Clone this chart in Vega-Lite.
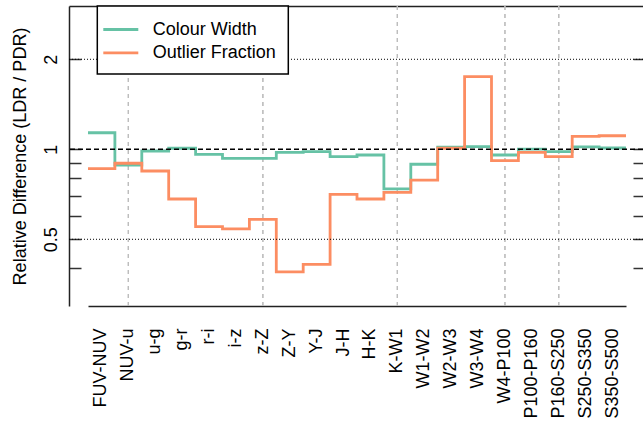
{
  "$schema": "https://vega.github.io/schema/vega-lite/v6.json",
  "width": 574,
  "height": 300,
  "autosize": {"type": "none"},
  "padding": {"left": 69, "top": 6, "right": 0, "bottom": 118},
  "background": "white",
  "config": {
    "view": {"stroke": null},
    "font": "Liberation Sans",
    "axis": {"labelFont": "Liberation Sans", "titleFont": "Liberation Sans", "labelColor": "black", "titleColor": "black"}
  },
  "data": {
    "values": [
      {"band": "FUV-NUV", "series": "Colour Width", "value": 1.136},
      {"band": "NUV-u", "series": "Colour Width", "value": 0.886},
      {"band": "u-g", "series": "Colour Width", "value": 0.987},
      {"band": "g-r", "series": "Colour Width", "value": 1.008},
      {"band": "r-i", "series": "Colour Width", "value": 0.962},
      {"band": "i-z", "series": "Colour Width", "value": 0.933},
      {"band": "z-Z", "series": "Colour Width", "value": 0.933},
      {"band": "Z-Y", "series": "Colour Width", "value": 0.977},
      {"band": "Y-J", "series": "Colour Width", "value": 0.982},
      {"band": "J-H", "series": "Colour Width", "value": 0.945},
      {"band": "H-K", "series": "Colour Width", "value": 0.957},
      {"band": "K-W1", "series": "Colour Width", "value": 0.737},
      {"band": "W1-W2", "series": "Colour Width", "value": 0.891},
      {"band": "W2-W3", "series": "Colour Width", "value": 1.016},
      {"band": "W3-W4", "series": "Colour Width", "value": 1.02},
      {"band": "W4-P100", "series": "Colour Width", "value": 0.957},
      {"band": "P100-P160", "series": "Colour Width", "value": 1.002},
      {"band": "P160-S250", "series": "Colour Width", "value": 0.982},
      {"band": "S250-S350", "series": "Colour Width", "value": 1.018},
      {"band": "S350-S500", "series": "Colour Width", "value": 1.01},
      {"band": "FUV-NUV", "series": "Outlier Fraction", "value": 0.861},
      {"band": "NUV-u", "series": "Outlier Fraction", "value": 0.898},
      {"band": "u-g", "series": "Outlier Fraction", "value": 0.846},
      {"band": "g-r", "series": "Outlier Fraction", "value": 0.682},
      {"band": "r-i", "series": "Outlier Fraction", "value": 0.551},
      {"band": "i-z", "series": "Outlier Fraction", "value": 0.542},
      {"band": "z-Z", "series": "Outlier Fraction", "value": 0.583},
      {"band": "Z-Y", "series": "Outlier Fraction", "value": 0.389},
      {"band": "Y-J", "series": "Outlier Fraction", "value": 0.412},
      {"band": "J-H", "series": "Outlier Fraction", "value": 0.707},
      {"band": "H-K", "series": "Outlier Fraction", "value": 0.682},
      {"band": "K-W1", "series": "Outlier Fraction", "value": 0.718},
      {"band": "W1-W2", "series": "Outlier Fraction", "value": 0.789},
      {"band": "W2-W3", "series": "Outlier Fraction", "value": 1.008},
      {"band": "W3-W4", "series": "Outlier Fraction", "value": 1.749},
      {"band": "W4-P100", "series": "Outlier Fraction", "value": 0.916},
      {"band": "P100-P160", "series": "Outlier Fraction", "value": 0.977},
      {"band": "P160-S250", "series": "Outlier Fraction", "value": 0.945},
      {"band": "S250-S350", "series": "Outlier Fraction", "value": 1.105},
      {"band": "S350-S500", "series": "Outlier Fraction", "value": 1.11}
    ]
  },
  "layer": [
    {
      "mark": {"type": "rule", "strokeDash": [4, 4], "color": "#bdbdbd", "strokeWidth": 1.2},
      "encoding": {
        "x": {
          "field": "band", "type": "nominal", "sort": null, "bandPosition": 0.5,
          "scale": {"type": "band", "range": [19, 557], "paddingInner": 0, "paddingOuter": 0},
          "axis": {
            "orient": "bottom", "title": null, "domain": true, "domainColor": "#222", "domainWidth": 1.5,
            "ticks": false, "grid": false, "labelAngle": -90, "labelAlign": "right", "labelBaseline": "middle",
            "labelFontSize": 18, "labelPadding": 22, "labelOverlap": false, "labelFlush": false, "labelLimit": 300
          }
        },
        "strokeOpacity": {
          "condition": {"test": "indexof(['NUV-u','z-Z','K-W1','W4-P100','P160-S250'], datum.band) >= 0", "value": 1},
          "value": 0
        }
      }
    },
    {
      "layer": [
        {
          "transform": [
            {"window": [{"op": "row_number", "as": "n"}], "groupby": ["series"]},
            {"calculate": "[datum.n - 1, datum.n]", "as": "xs"},
            {"flatten": ["xs"]}
          ],
          "mark": {"type": "line", "strokeWidth": 2.8},
          "encoding": {
            "x": {
              "field": "xs", "type": "quantitative",
              "scale": {"domain": [-0.706, 20.632], "nice": false, "zero": false},
              "axis": {"orient": "top", "title": null, "domain": true, "domainColor": "#222", "domainWidth": 1.5, "ticks": false, "labels": false, "grid": false}
            },
            "y": {
              "field": "value", "type": "quantitative",
              "scale": {"type": "log", "domain": [0.2991, 3.015], "nice": false},
              "axis": {"orient": "right", "values": [0.4, 0.5, 0.6, 0.7, 0.8, 0.9, 1, 2], "labels": false, "title": null, "domain": false, "ticks": true, "tickSize": -10, "tickColor": "#333", "tickWidth": 1.5, "grid": false}
            },
            "color": {
              "field": "series", "type": "nominal",
              "scale": {"range": ["#66c2a5", "#fc8d62"]},
              "legend": {
                "orient": "none", "legendX": 28.3, "legendY": 0, "title": null,
                "fillColor": "white", "strokeColor": "black", "padding": 12,
                "symbolType": "M-1.75,0H1.75", "symbolSize": 400, "symbolStrokeWidth": 2.8,
                "labelFontSize": 18, "labelFont": "Liberation Sans", "labelColor": "black",
                "labelOffset": 20.5, "rowPadding": 2.3,
                "encode": {"legend": {"update": {"strokeWidth": {"value": 1.5}}}}
              }
            },
            "order": [{"field": "xs", "type": "quantitative"}, {"field": "n", "type": "quantitative"}]
          }
        },
        {
          "data": {"values": [{"ref": 0.5}, {"ref": 2}]},
          "mark": {"type": "rule", "strokeDash": [1, 2], "color": "black", "strokeWidth": 1},
          "encoding": {
            "y": {
              "field": "ref", "type": "quantitative",
              "scale": {"type": "log", "domain": [0.2991, 3.015], "nice": false},
              "axis": {
                "orient": "left", "values": [0.4, 0.5, 0.6, 0.7, 0.8, 0.9, 1, 2],
                "labelExpr": "datum.value == 0.5 || datum.value == 1 || datum.value == 2 ? format(datum.value, '~g') : ''",
                "title": "Relative Difference (LDR / PDR)", "titleFontSize": 18, "titleFontWeight": "normal",
                "titleAngle": -90, "titleAlign": "center", "titleBaseline": "alphabetic", "titleX": -44, "titleY": 150,
                "domain": true, "domainColor": "#222", "domainWidth": 1.5,
                "ticks": true, "tickSize": -12, "tickColor": "#333", "tickWidth": 1.5, "grid": false,
                "labelFontSize": 18, "labelAngle": -90, "labelAlign": "center", "labelBaseline": "alphabetic",
                "labelPadding": 25, "labelOverlap": false, "labelFlush": false
              }
            }
          }
        },
        {
          "data": {"values": [{"ref": 1}]},
          "mark": {"type": "rule", "strokeDash": [5, 3], "color": "black", "strokeWidth": 1.4},
          "encoding": {
            "y": {
              "field": "ref", "type": "quantitative",
              "scale": {"type": "log", "domain": [0.2991, 3.015], "nice": false},
              "axis": null
            }
          }
        }
      ],
      "resolve": {"axis": {"y": "independent"}}
    }
  ],
  "resolve": {"scale": {"x": "independent"}, "axis": {"x": "independent"}}
}
